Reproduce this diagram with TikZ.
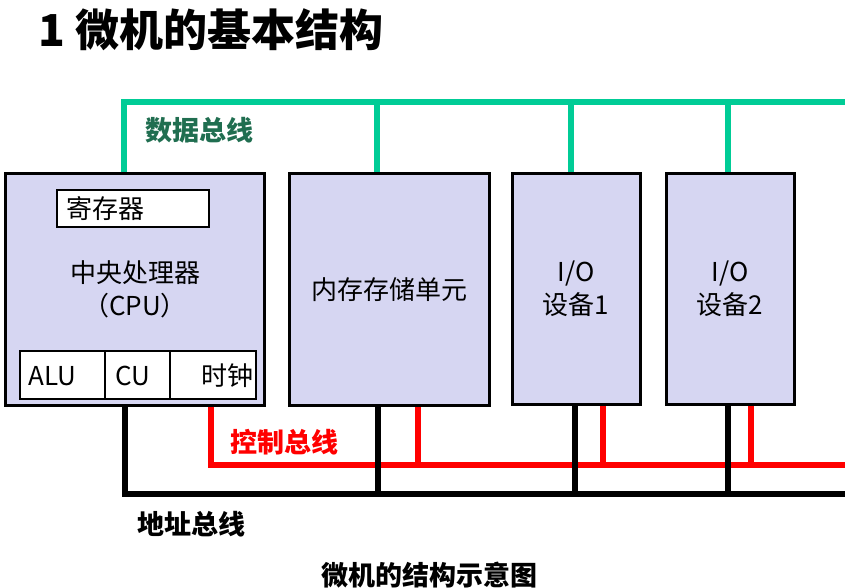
\documentclass[tikz,border=0pt]{standalone}
\usepackage{fontspec}
\setmainfont{Noto Sans CJK SC}
\usepackage{tikz}

\definecolor{boxfill}{RGB}{214,214,242}
\definecolor{dbusgreen}{RGB}{0,204,150}
\definecolor{dlabelgreen}{RGB}{32,110,80}

\begin{document}
\begin{tikzpicture}[
    x=1pt, y=-1pt,
    unit/.style={draw, line width=3pt, fill=boxfill, inner sep=0pt, align=center, font=\fontsize{26}{33}\selectfont},
    part/.style={draw, line width=2pt, fill=white, inner sep=0pt},
    txt/.style={inner sep=0pt, font=\fontsize{26}{33}\selectfont},
    buslabel/.style={inner sep=0pt, anchor=west, font=\bfseries\fontsize{27}{30}\selectfont},
    databus/.style={dbusgreen, line width=5.5pt},
    ctrlbus/.style={red, line width=5.5pt},
    addrbus/.style={black, line width=6pt}
]
    \useasboundingbox (0,0) rectangle (845,588);

    % title
    \node[inner sep=0pt, anchor=west, font=\bfseries\fontsize{44}{48}\selectfont] (title) at (38,30) {1 微机的基本结构};

    % units
    \node[unit, minimum width=259pt, minimum height=231pt] (cpu) at (134.5,289.5) {};
    \node[unit, minimum width=200pt, minimum height=231pt] (mem) at (389,289.5) {内存存储单元};
    \node[unit, minimum width=128pt, minimum height=230pt] (io1) at (576,289) {I/O\\设备1};
    \node[unit, minimum width=128pt, minimum height=230pt] (io2) at (730,289) {I/O\\设备2};

    % inside the CPU
    \node[part, minimum width=152pt, minimum height=37pt] (reg) at (133,208.5) {};
    \node[txt, anchor=west] (regtxt) at (66,208.5) {寄存器};
    \node[txt] (cpuname) at (135,273) {中央处理器};
    \node[txt] (cpuabbr) at (135,306) {（CPU）};
    \node[part, minimum width=85pt, minimum height=48pt] (alu) at (62.5,375) {};
    \node[part, minimum width=65pt, minimum height=48pt] (cu) at (137.5,375) {};
    \node[part, minimum width=86pt, minimum height=48pt] (clk) at (213,375) {};
    \node[txt, anchor=west] (alutxt) at (28,376) {ALU};
    \node[txt, anchor=west] (cutxt) at (115,376) {CU};
    \node[txt, anchor=east] (clktxt) at (254,376) {时钟};

    % data bus
    \coordinate (d0) at (124,102);
    \coordinate (d1) at (377,102);
    \coordinate (d2) at (571,102);
    \coordinate (d3) at (728,102);
    \coordinate (dend) at (845,102);
    \draw[databus] (cpu.north -| d0) -- (d0) -- (dend);
    \draw[databus] (d1) -- (d1 |- mem.north);
    \draw[databus] (d2) -- (d2 |- io1.north);
    \draw[databus] (d3) -- (d3 |- io2.north);
    \node[buslabel, text=dlabelgreen] (dlabel) at (145,130) {数据总线};

    % control bus
    \coordinate (c0) at (211,465);
    \coordinate (c1) at (418,465);
    \coordinate (c2) at (603,465);
    \coordinate (c3) at (751,465);
    \coordinate (cend) at (845,465);
    \draw[ctrlbus] (cpu.south -| c0) -- (c0) -- (cend);
    \draw[ctrlbus] (c1) -- (c1 |- mem.south);
    \draw[ctrlbus] (c2) -- (c2 |- io1.south);
    \draw[ctrlbus] (c3) -- (c3 |- io2.south);
    \node[buslabel, text=red] (clabel) at (230,442) {控制总线};

    % address bus
    \coordinate (a0) at (125,494);
    \coordinate (a1) at (378,494);
    \coordinate (a2) at (575,494);
    \coordinate (a3) at (728,494);
    \coordinate (aend) at (845,494);
    \draw[addrbus] (cpu.south -| a0) -- (a0) -- (aend);
    \draw[addrbus] (a1) -- (a1 |- mem.south);
    \draw[addrbus] (a2) -- (a2 |- io1.south);
    \draw[addrbus] (a3) -- (a3 |- io2.south);
    \node[buslabel] (alabel) at (137,524) {地址总线};

    % caption
    \node[inner sep=0pt, font=\bfseries\fontsize{27}{30}\selectfont] (caption) at (429,575) {微机的结构示意图};
\end{tikzpicture}
\end{document}
